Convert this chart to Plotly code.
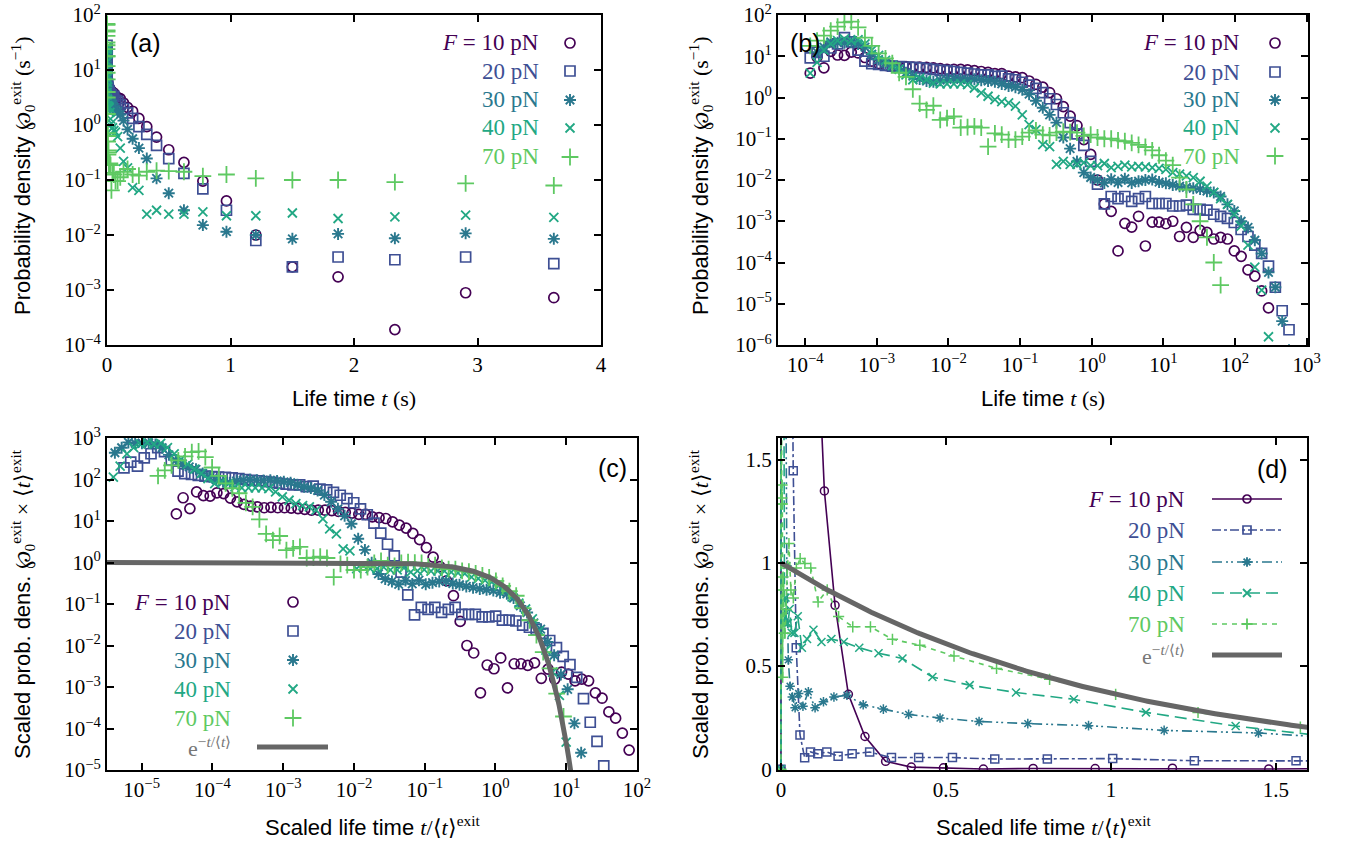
import numpy as np
import plotly.graph_objects as go

W, H = 1346, 841

# ---------------- data ----------------
FORCE_LABELS = ["<i>F</i> = 10 pN", "20 pN", "30 pN", "40 pN", "70 pN"]
COLORS = ["#440154", "#3e4f94", "#2a788e", "#22a884", "#5ec962"]
SYMBOLS = ["circle-open", "square-open", "asterisk-open", "x-thin-open", "cross-thin-open"]
DASHES = ["solid", "dashdot", "10px,4px,2px,3px,2px,4px", "12px,6px", "5px,5px"]
GREY = "#666666"

# life-time bin centres (s)
LIFE_TIME = [
    1.175e-4, 1.464e-4, 1.824e-4, 2.272e-4, 2.831e-4, 3.527e-4, 4.395e-4, 5.475e-4, 6.823e-4, 8.50e-4,
    1.059e-3, 1.320e-3, 1.644e-3, 2.049e-3, 2.553e-3, 3.181e-3, 3.963e-3, 4.938e-3, 6.152e-3, 7.665e-3,
    9.55e-3, 0.0119, 0.01483, 0.01847, 0.02301, 0.02867, 0.03573, 0.04451, 0.05546, 0.0691,
    0.0861, 0.1073, 0.1337, 0.1665, 0.2075, 0.2585, 0.3221, 0.4013, 0.500, 0.623,
    0.7762, 0.9672, 1.205, 1.501, 1.871, 2.331, 2.904, 3.618, 4.508, 5.617,
    6.998, 8.72, 10.86, 13.54, 16.87, 21.01, 26.18, 32.62, 40.64, 50.64,
    63.1, 78.62, 97.95, 122.0, 152.1, 189.5, 236.0, 294.1, 366.4, 456.6,
    568.9, 708.8,
]

# log10 of the exit probability density (1/s), one value per bin (None = empty bin)
LOG10_DENS_10PN = [
    0.59, 0.98, 0.72, 1.12, 1.03, 1.02, 1.10, 1.08, 0.97, 0.88,
    0.82, 0.78, 0.76, 0.74, 0.75, 0.74, 0.74, 0.73, 0.72, 0.70,
    0.68, 0.68, 0.68, 0.67, 0.65, 0.63, 0.61, 0.58, 0.58, 0.52,
    0.50, 0.48, 0.40, 0.32, 0.25, 0.12, -0.03, -0.22, -0.45, -0.68,
    -1.02, -1.38, -2.00, -2.58, -2.76, -3.72, -3.05, -3.14, -2.88, -3.60,
    -3.02, -3.02, -3.06, -3.00, -3.37, -3.15, -3.39, -3.22, -3.27, -3.43,
    -3.39, -3.43, -3.72, -3.85, -4.18, -4.33, -4.69, -5.10, None, None,
    None, None,
]
LOG10_DENS_20PN = [
    0.96, 1.10, 1.00, 1.20, 1.30, 1.45, 1.35, 1.15, 0.88, 0.82,
    0.80, 0.78, 0.76, 0.75, 0.74, 0.73, 0.72, 0.70, 0.68, 0.66,
    0.65, 0.63, 0.61, 0.59, 0.57, 0.55, 0.55, 0.51, 0.52, 0.45,
    0.43, 0.37, 0.30, 0.22, 0.12, -0.03, -0.17, -0.37, -0.61, -0.88,
    -1.16, -1.55, -2.10, -2.58, -2.40, -2.45, -2.40, -2.52, -2.45, -2.40,
    -2.57, -2.57, -2.57, -2.63, -2.63, -2.61, -2.71, -2.71, -2.73, -2.83,
    -2.88, -2.93, -3.03, -3.20, -3.37, -3.58, -3.78, -4.09, -4.60, -5.17,
    -5.63, -6.22,
]
LOG10_DENS_30PN = [
    None, 1.10, 1.22, 1.35, 1.33, 1.33, 1.34, 1.30, 1.22, 1.05,
    0.92, 0.83, 0.76, 0.70, 0.60, 0.52, 0.45, 0.40, 0.38, 0.42,
    0.44, 0.45, 0.44, 0.43, 0.44, 0.42, 0.40, 0.38, 0.33, 0.28,
    0.25, 0.19, 0.08, -0.08, -0.25, -0.42, -0.61, -0.97, -1.24, -1.55,
    -1.82, -1.94, -2.00, -2.07, -1.98, -2.06, -1.97, -2.07, -2.03, -2.00,
    -1.99, -2.05, -2.08, -2.12, -2.15, -2.18, -2.20, -2.22, -2.27, -2.30,
    -2.40, -2.59, -2.75, -3.00, -3.15, -3.46, -3.78, -4.24, -4.60, -5.42,
    -6.13, None,
]
LOG10_DENS_40PN = [
    0.59, 0.85, 1.15, 1.30, 1.38, 1.42, 1.38, 1.40, 1.30, 1.15,
    1.02, 0.90, 0.78, 0.68, 0.55, 0.43, 0.47, 0.43, 0.35, 0.33,
    0.33, 0.33, 0.33, 0.31, 0.23, 0.11, 0.03, -0.05, -0.10, -0.13,
    -0.21, -0.42, -0.66, -0.78, -1.14, -1.19, -1.62, -1.55, -1.62, -1.62,
    -1.58, -1.65, -1.65, -1.60, -1.70, -1.67, -1.64, -1.68, -1.67, -1.68,
    -1.70, -1.72, -1.74, -1.82, -1.86, -1.90, -1.94, -2.03, -2.15, -2.30,
    -2.45, -2.59, -2.83, -3.12, -3.58, -4.11, -4.67, -5.80, None, None,
    None, None,
]
LOG10_DENS_70PN = [
    1.25, 1.38, 1.50, 1.62, 1.72, 1.82, 1.84, 1.70, 1.45, 1.25,
    1.07, 0.95, 0.83, 0.60, 0.50, 0.20, -0.15, -0.30, -0.20, -0.54,
    -0.50, -0.46, -0.73, -0.72, -0.70, -0.73, -1.19, -0.87, -0.90, -1.02,
    -1.02, -0.95, -0.85, -0.80, -0.90, -0.92, -0.85, -0.83, -0.84, -0.85,
    -0.93, -0.90, -0.97, -1.00, -1.00, -1.04, -1.06, -1.10, -1.15, -1.20,
    -1.28, -1.40, -1.53, -1.64, -1.94, -2.23, -2.59, -3.00, -3.39, -4.00,
    -4.55, None, None, None, None, None, None, None, None, None,
    None, None,
]
SERIES_LOG10 = [LOG10_DENS_10PN, LOG10_DENS_20PN, LOG10_DENS_30PN, LOG10_DENS_40PN, LOG10_DENS_70PN]

# mean exit life time <t>^exit (s) per force
MEAN_LIFETIME = [3.8, 20.9, 35.0, 29.5, 6.9]

# tick labels
def pow_label(e):
    return "10<sup>" + (str(e) if e >= 0 else "\u2212" + str(-e)) + "</sup>"

YA_TICKS = list(range(-4, 3))
XB_TICKS = list(range(-4, 4))
YB_TICKS = list(range(-6, 3))
XC_TICKS = list(range(-5, 3))
YC_TICKS = list(range(-5, 4))
XA_TICKS = [0, 1, 2, 3, 4]
D_TICKS = [0, 0.5, 1, 1.5]
D_TICKTEXT = ["0", "0.5", "1", "1.5"]

# ---------------- helpers ----------------
def fx(px):
    return px / W

def fy(py):
    return 1 - py / H

SERIF = "Liberation Serif"
SANS = "Liberation Sans"

fig = go.Figure()

def series(i):
    t, p = [], []
    for tt, lv in zip(LIFE_TIME, SERIES_LOG10[i]):
        if lv is not None:
            t.append(tt)
            p.append(10 ** lv)
    return np.array(t), np.array(p)

mk_size = [10, 10, 10, 9, 12]
mk_width = [1.7, 1.7, 1.9, 1.8, 1.8]

for i in range(5):
    t, p = series(i)
    m = dict(symbol=SYMBOLS[i], size=mk_size[i], color=COLORS[i], line=dict(width=mk_width[i], color=COLORS[i]))
    sel = t <= 4.2
    fig.add_trace(go.Scatter(x=t[sel], y=p[sel], mode="markers", marker=m, xaxis="x", yaxis="y"))
    fig.add_trace(go.Scatter(x=t, y=p, mode="markers", marker=m, xaxis="x2", yaxis="y2"))
    mt = MEAN_LIFETIME[i]
    fig.add_trace(go.Scatter(x=t / mt, y=p * mt, mode="markers", marker=m, xaxis="x3", yaxis="y3"))

xe = np.logspace(-5.6, np.log10(12), 300)
fig.add_trace(go.Scatter(x=xe, y=np.exp(-xe), mode="lines", line=dict(color=GREY, width=5),
                         xaxis="x3", yaxis="y3"))

for i in range(5):
    t, p = series(i)
    mt = MEAN_LIFETIME[i]
    xs = np.concatenate([[0.0], t / mt])
    ys = np.concatenate([[0.0], p * mt])
    fig.add_trace(go.Scatter(x=xs, y=ys, mode="lines+markers",
                             line=dict(color=COLORS[i], width=1.6, dash=DASHES[i]),
                             marker=dict(symbol=SYMBOLS[i], size=8, color=COLORS[i],
                                         line=dict(width=1.5, color=COLORS[i])),
                             xaxis="x4", yaxis="y4"))
xl = np.linspace(0, 1.7, 200)
fig.add_trace(go.Scatter(x=xl, y=np.exp(-xl), mode="lines", line=dict(color=GREY, width=5),
                         xaxis="x4", yaxis="y4"))

# ---------------- legends (overlay in pixel coordinates) ----------------
annotations = []

def legend_text(x_right, y, text, color, size=23):
    annotations.append(dict(x=fx(x_right), y=fy(y), xref="paper", yref="paper", text=text,
                            showarrow=False, xanchor="right", yanchor="middle",
                            font=dict(family=SERIF, size=size, color=color)))

def legend_marker(x, y, i, size=None):
    fig.add_trace(go.Scatter(x=[x], y=[y], mode="markers", xaxis="x5", yaxis="y5",
                             marker=dict(symbol=SYMBOLS[i], size=size or mk_size[i], color=COLORS[i],
                                         line=dict(width=mk_width[i], color=COLORS[i])),
                             cliponaxis=False))

rows_a = [43, 71, 100, 128, 157]
rows_b = [43, 72, 100, 128, 156]
rows_c = [602, 631, 660, 689, 718]
rows_d = [499, 530, 562, 593, 624]
for i in range(5):
    legend_text(541, rows_a[i], FORCE_LABELS[i], COLORS[i])
    legend_marker(570, rows_a[i], i)
    legend_text(1242, rows_b[i], FORCE_LABELS[i], COLORS[i])
    legend_marker(1275, rows_b[i], i)
    legend_text(233, rows_c[i], FORCE_LABELS[i], COLORS[i])
    legend_marker(293, rows_c[i], i)
    legend_text(1187, rows_d[i], FORCE_LABELS[i], COLORS[i])
    fig.add_trace(go.Scatter(x=[1212, 1282], y=[rows_d[i], rows_d[i]], mode="lines", xaxis="x5", yaxis="y5",
                             line=dict(color=COLORS[i], width=1.6, dash=DASHES[i]), cliponaxis=False))
    legend_marker(1247, rows_d[i], i, size=8)

EXP_LABEL = "e<sup>\u2212<i>t</i>/\u27e8<i>t</i>\u27e9</sup>"
legend_text(233, 747, EXP_LABEL, "#777777", size=22)
fig.add_trace(go.Scatter(x=[257, 328], y=[747, 747], mode="lines", xaxis="x5", yaxis="y5",
                         line=dict(color=GREY, width=5), cliponaxis=False))
legend_text(1187, 655, EXP_LABEL, "#777777", size=22)
fig.add_trace(go.Scatter(x=[1212, 1282], y=[655, 655], mode="lines", xaxis="x5", yaxis="y5",
                         line=dict(color=GREY, width=5), cliponaxis=False))

for lab, x, y in [("(a)", 145, 43), ("(b)", 805, 43), ("(c)", 612, 468), ("(d)", 1272, 469)]:
    annotations.append(dict(x=fx(x), y=fy(y), xref="paper", yref="paper", text=lab, showarrow=False,
                            xanchor="center", yanchor="middle", font=dict(family=SANS, size=25, color="black")))

def serif_span(s):
    return "<span style=\"font-family:'Liberation Serif';\">" + s + "</span>"

RHO = "\u2118<sub>0</sub><sup>exit</sup>"
Y_AB = "Probability density " + serif_span(RHO + " (s<sup>\u22121</sup>)")
Y_CD = "Scaled prob. dens. " + serif_span(RHO + " \u00d7 \u27e8<i>t</i>\u27e9<sup>exit</sup>")
X_AB = "Life time " + serif_span("<i>t</i> (s)")
X_CD = "Scaled life time " + serif_span("<i>t</i>/\u27e8<i>t</i>\u27e9<sup>exit</sup>")

for txt, x, y, ang in [(Y_AB, 22, 176, -90), (Y_AB, 700, 176, -90), (Y_CD, 22, 604, -90), (Y_CD, 700, 604, -90),
                       (X_AB, 354, 398, 0), (X_AB, 1043, 398, 0), (X_CD, 372, 826, 0), (X_CD, 1043, 826, 0)]:
    annotations.append(dict(x=fx(x), y=fy(y), xref="paper", yref="paper", text=txt, showarrow=False,
                            xanchor="center", yanchor="middle", textangle=ang,
                            font=dict(family=SANS, size=22, color="black")))

def ax(domain_px, horizontal, **kw):
    if horizontal:
        dom = [fx(domain_px[0]), fx(domain_px[1])]
    else:
        dom = [fy(domain_px[1]), fy(domain_px[0])]
    d = dict(domain=dom, showgrid=False, zeroline=False, showline=True, linewidth=2, linecolor="black",
             mirror="allticks", ticks="inside", ticklen=7, tickwidth=1.5, tickcolor="black",
             tickfont=dict(family=SERIF, size=21, color="black"), automargin=False, fixedrange=True)
    d.update(kw)
    return d

layout = dict(
    width=W, height=H, margin=dict(l=0, r=0, t=0, b=0), showlegend=False,
    plot_bgcolor="rgba(0,0,0,0)", paper_bgcolor="white",
    xaxis=ax([107, 601], True, anchor="y", range=[0, 4], tickvals=XA_TICKS,
             ticktext=[str(v) for v in XA_TICKS]),
    yaxis=ax([15, 345], False, anchor="x", type="log", range=[-4, 2],
             tickvals=[10.0 ** e for e in YA_TICKS], ticktext=[pow_label(e) for e in YA_TICKS]),
    xaxis2=ax([778, 1308], True, anchor="y2", type="log", range=[-4.38, 3.02],
              tickvals=[10.0 ** e for e in XB_TICKS], ticktext=[pow_label(e) for e in XB_TICKS]),
    yaxis2=ax([15, 345], False, anchor="x2", type="log", range=[-6, 2],
              tickvals=[10.0 ** e for e in YB_TICKS], ticktext=[pow_label(e) for e in YB_TICKS]),
    xaxis3=ax([107, 637], True, anchor="y3", type="log", range=[-5.49, 2.0],
              tickvals=[10.0 ** e for e in XC_TICKS], ticktext=[pow_label(e) for e in XC_TICKS]),
    yaxis3=ax([438, 770], False, anchor="x3", type="log", range=[-5, 3],
              tickvals=[10.0 ** e for e in YC_TICKS], ticktext=[pow_label(e) for e in YC_TICKS]),
    xaxis4=ax([778, 1307], True, anchor="y4", range=[-0.009, 1.594], tickvals=D_TICKS, ticktext=D_TICKTEXT),
    yaxis4=ax([438, 770], False, anchor="x4", range=[-0.004, 1.605], tickvals=D_TICKS, ticktext=D_TICKTEXT),
    xaxis5=dict(domain=[0, 1], range=[0, W], visible=False, anchor="y5", fixedrange=True),
    yaxis5=dict(domain=[0, 1], range=[H, 0], visible=False, anchor="x5", fixedrange=True),
    annotations=annotations,
)
fig.update_layout(**layout)
fig.write_html("out.html")
